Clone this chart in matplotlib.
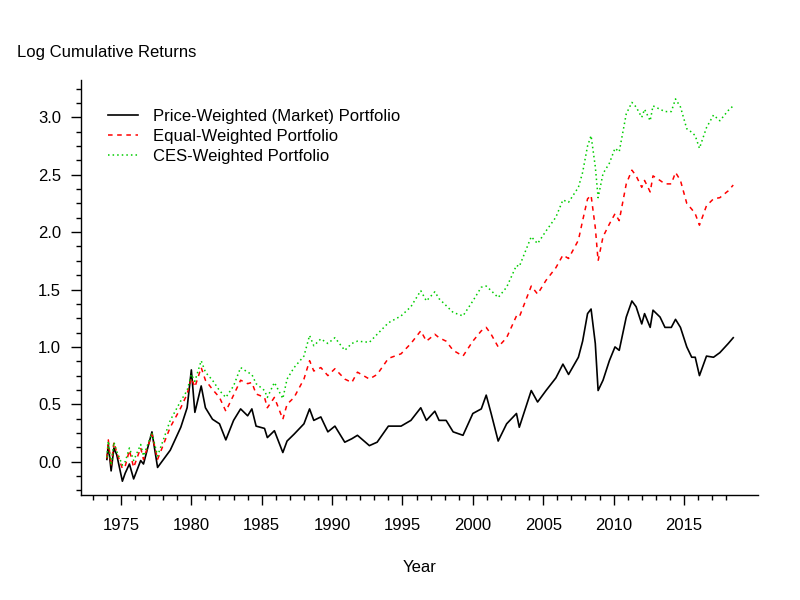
import matplotlib
matplotlib.use("Agg")
import matplotlib.pyplot as plt
from matplotlib.ticker import FixedLocator, FixedFormatter
import numpy as np

plt.rcParams['font.family'] = ['Liberation Sans', 'DejaVu Sans']

years = [1974.0, 1974.1, 1974.3, 1974.5, 1974.7, 1975.1, 1975.3, 1975.6, 1975.9, 1976.4,
         1976.6, 1977.2, 1977.6, 1978.5, 1979.25, 1979.7, 1980.0, 1980.25, 1980.7, 1981.0,
         1981.5, 1982.0, 1982.45, 1983.0, 1983.5, 1984.0, 1984.3, 1984.6, 1985.2, 1985.4,
         1985.9, 1986.5, 1986.8, 1987.3, 1988.0, 1988.4, 1988.7, 1989.2, 1989.7, 1990.2,
         1990.9, 1991.4, 1991.8, 1992.65, 1993.2, 1994.0, 1994.9, 1995.6, 1996.3, 1996.7,
         1997.3, 1997.6, 1998.1, 1998.6, 1999.3, 2000.0, 2000.6, 2000.95, 2001.3, 2001.8,
         2002.4, 2003.1, 2003.3, 2004.15, 2004.6, 2005.2, 2005.9, 2006.4, 2006.8, 2007.5,
         2007.8, 2008.15, 2008.4, 2008.7, 2008.9, 2009.25, 2009.7, 2010.1, 2010.4, 2010.9,
         2011.3, 2011.6, 2012.0, 2012.2, 2012.6, 2012.8, 2013.3, 2013.65, 2014.1, 2014.4,
         2014.75, 2015.2, 2015.55, 2015.8, 2016.1, 2016.6, 2017.1, 2017.55, 2018.15, 2018.5]

price_weighted = [0.02, 0.15, -0.08, 0.12, 0.06, -0.17, -0.10, -0.02, -0.15, 0.01,
                  -0.02, 0.26, -0.05, 0.10, 0.30, 0.47, 0.80, 0.43, 0.66, 0.47,
                  0.37, 0.33, 0.19, 0.36, 0.46, 0.40, 0.46, 0.31, 0.29, 0.21,
                  0.27, 0.08, 0.18, 0.24, 0.33, 0.46, 0.36, 0.39, 0.26, 0.31,
                  0.17, 0.20, 0.23, 0.14, 0.17, 0.31, 0.31, 0.36, 0.47, 0.36,
                  0.44, 0.36, 0.36, 0.26, 0.23, 0.42, 0.46, 0.58, 0.42, 0.18,
                  0.33, 0.42, 0.30, 0.62, 0.52, 0.62, 0.73, 0.85, 0.76, 0.91,
                  1.05, 1.29, 1.33, 1.03, 0.62, 0.71, 0.88, 1.00, 0.97, 1.26,
                  1.40, 1.35, 1.20, 1.29, 1.17, 1.32, 1.26, 1.17, 1.17, 1.24,
                  1.17, 1.00, 0.91, 0.91, 0.75, 0.92, 0.91, 0.95, 1.03, 1.08]

equal_weighted = [0.03, 0.19, -0.04, 0.17, 0.08, -0.06, -0.04, 0.10, -0.05, 0.12,
                  0.02, 0.24, 0.02, 0.30, 0.47, 0.59, 0.73, 0.65, 0.82, 0.71,
                  0.63, 0.56, 0.44, 0.58, 0.71, 0.68, 0.69, 0.59, 0.56, 0.47,
                  0.56, 0.37, 0.50, 0.56, 0.72, 0.88, 0.79, 0.82, 0.75, 0.81,
                  0.72, 0.69, 0.78, 0.72, 0.76, 0.90, 0.94, 1.03, 1.14, 1.05,
                  1.11, 1.08, 1.05, 0.97, 0.92, 1.05, 1.14, 1.17, 1.11, 1.00,
                  1.08, 1.27, 1.26, 1.53, 1.46, 1.58, 1.69, 1.80, 1.77, 1.93,
                  2.10, 2.29, 2.32, 2.04, 1.75, 1.96, 2.07, 2.16, 2.10, 2.42,
                  2.54, 2.49, 2.39, 2.45, 2.35, 2.49, 2.45, 2.42, 2.42, 2.52,
                  2.45, 2.25, 2.20, 2.16, 2.06, 2.23, 2.29, 2.30, 2.36, 2.41]

ces_weighted = [0.04, 0.18, -0.03, 0.17, 0.09, -0.03, 0.00, 0.12, 0.01, 0.15,
                0.05, 0.25, 0.05, 0.36, 0.53, 0.62, 0.76, 0.70, 0.88, 0.78,
                0.71, 0.62, 0.56, 0.66, 0.82, 0.78, 0.76, 0.68, 0.62, 0.56,
                0.69, 0.55, 0.72, 0.82, 0.92, 1.10, 1.01, 1.07, 1.03, 1.08,
                0.97, 1.03, 1.05, 1.04, 1.11, 1.21, 1.27, 1.35, 1.49, 1.40,
                1.48, 1.42, 1.36, 1.30, 1.27, 1.40, 1.52, 1.53, 1.49, 1.43,
                1.52, 1.71, 1.70, 1.96, 1.90, 2.01, 2.13, 2.28, 2.26, 2.39,
                2.52, 2.75, 2.84, 2.57, 2.30, 2.51, 2.60, 2.73, 2.70, 3.03,
                3.13, 3.09, 3.00, 3.07, 2.97, 3.10, 3.07, 3.05, 3.05, 3.16,
                3.09, 2.90, 2.87, 2.84, 2.73, 2.91, 3.02, 2.97, 3.06, 3.10]

labels = ["Price-Weighted (Market) Portfolio", "Equal-Weighted Portfolio", "CES-Weighted Portfolio"]

x_major = [1975, 1980, 1985, 1990, 1995, 2000, 2005, 2010, 2015]
x_minor = [1973, 1974, 1976, 1977, 1978, 1979, 1981, 1982, 1983, 1984, 1986, 1987, 1988,
           1989, 1991, 1992, 1993, 1994, 1996, 1997, 1998, 1999, 2001, 2002, 2003, 2004,
           2006, 2007, 2008, 2009, 2011, 2012, 2013, 2014, 2016, 2017, 2018]
y_major = [0.0, 0.5, 1.0, 1.5, 2.0, 2.5, 3.0]
y_major_labels = ["0.0", "0.5", "1.0", "1.5", "2.0", "2.5", "3.0"]
y_minor = [-0.25, -0.125, 0.125, 0.25, 0.375, 0.625, 0.75, 0.875, 1.125, 1.25, 1.375,
           1.625, 1.75, 1.875, 2.125, 2.25, 2.375, 2.625, 2.75, 2.875, 3.125, 3.25]

fs = 12
fig = plt.figure(figsize=(8, 6), dpi=100)
ax = fig.add_axes([81/800, 105/600, 677/800, 415/600])

ax.plot(years, price_weighted, color='black', lw=1.2, linestyle='-', label=labels[0])
ax.plot(years, equal_weighted, color='#ff0000', lw=1.1, linestyle=(0, (3, 3)), label=labels[1])
ax.plot(years, ces_weighted, color='#00cd00', lw=1.1, linestyle=(0, (1, 2)), label=labels[2])

ax.set_xlim(1972.16, 2020.26)
ax.set_ylim(-0.29, 3.325)

for s in ['top', 'right']:
    ax.spines[s].set_visible(False)
for s in ['left', 'bottom']:
    ax.spines[s].set_linewidth(1.0)

ax.xaxis.set_major_locator(FixedLocator(x_major))
ax.xaxis.set_minor_locator(FixedLocator(x_minor))
ax.yaxis.set_major_locator(FixedLocator(y_major))
ax.yaxis.set_major_formatter(FixedFormatter(y_major_labels))
ax.yaxis.set_minor_locator(FixedLocator(y_minor))

ax.tick_params(axis='both', which='major', direction='out', length=7.2, width=1.0,
               labelsize=fs, pad=7.2)
ax.tick_params(axis='x', which='major', pad=9.5)
ax.tick_params(axis='both', which='minor', direction='out', length=3.8, width=1.0)

fig.text(16.7/800, 1 - 52.7/600, "Log Cumulative Returns", fontsize=fs, ha='left', va='center')
fig.text(420/800, 1 - 568/600, "Year", fontsize=fs, ha='center', va='center')

leg = ax.legend(loc='upper left', bbox_to_anchor=((108-81)/677, (495-109)/415),
                frameon=False, fontsize=fs, handlelength=1.8, handletextpad=0.9,
                labelspacing=0.3, borderpad=0, borderaxespad=0)

fig.savefig("out.png", dpi=100)
